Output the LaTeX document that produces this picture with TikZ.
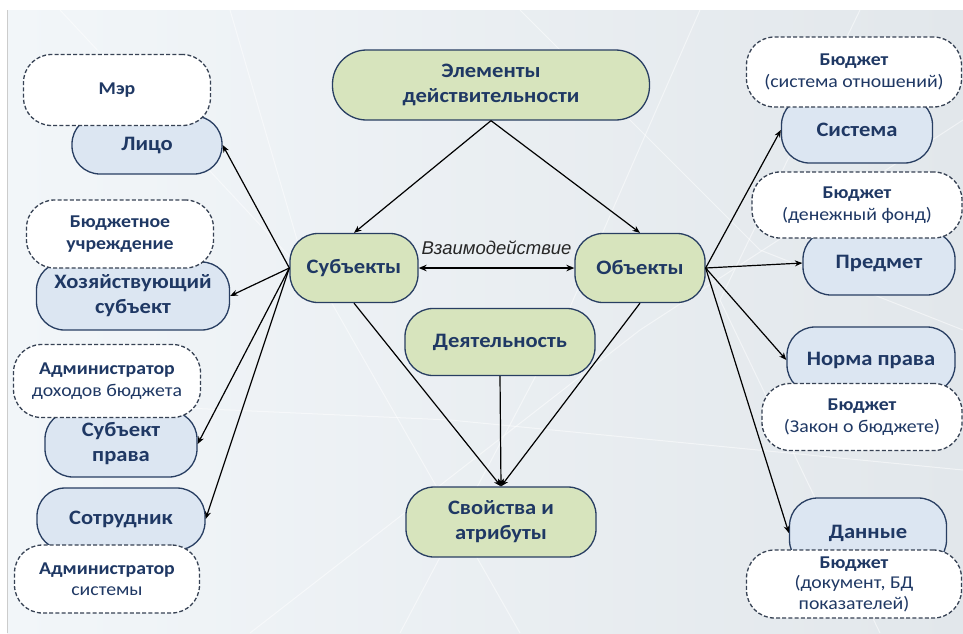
\documentclass[tikz,border=0pt]{standalone}
\usepackage{fontspec}
\setmainfont[FakeStretch=1.1]{Carlito}
\newfontfamily\interfont{Liberation Sans}
\usetikzlibrary{arrows.meta}

\definecolor{ink}{RGB}{31,56,100}
\definecolor{edge}{RGB}{40,62,98}
\definecolor{greenfill}{RGB}{215,228,189}
\definecolor{bluefill}{RGB}{220,230,242}
\definecolor{dashedge}{RGB}{55,66,84}
\definecolor{bgA}{RGB}{242,246,249}
\definecolor{bgB}{RGB}{226,231,235}

\tikzset{
  pill/.style={draw=edge, line width=1.3pt, rounded corners=28pt, align=center,
    text=ink, font=\fontsize{20.5}{25}\selectfont\bfseries, inner sep=0pt},
  greenpill/.style={pill, fill=greenfill},
  bluepill/.style={pill, fill=bluefill},
  notepill/.style={draw=dashedge, fill=white, line width=1.3pt,
    dash pattern=on 4pt off 2.2pt, rounded corners=28pt, align=center, text=ink,
    font=\fontsize{18}{21.5}\selectfont, inner sep=0pt},
  link/.style={line width=1.2pt, -{Stealth[length=7.5pt,width=6pt]}},
  netline/.style={white, line width=1pt, opacity=0.5},
}

\begin{document}
\begin{tikzpicture}[x=1pt, y=-1pt]
  \useasboundingbox (0,0) rectangle (963,633);
  \fill[white] (0,0) rectangle (963,633);
  % backdrop
  \shade[left color=bgA, right color=bgB] (7,10) rectangle (963,633);
  \draw[gray!40, line width=1pt] (7,10) -- (7,633);
  \draw[netline] (60,10) -- (330,300) -- (520,633);
  \draw[netline] (230,10) -- (300,250);
  \draw[netline] (700,10) -- (560,330) -- (400,633);
  \draw[netline] (860,10) -- (720,300) -- (880,633);
  \draw[netline] (963,120) -- (640,330) -- (250,633);
  \draw[netline] (10,400) -- (450,420) -- (963,470);
  \draw[netline] (520,10) -- (760,250) -- (963,330);

  % central nodes
  \node[greenpill, minimum width=317pt, minimum height=70pt, rounded corners=34pt] (elem) at (491,85) {Элементы\\действительности};
  \node[greenpill, minimum width=128pt, minimum height=69pt] (sub) at (354,268) {Субъекты};
  \node[greenpill, minimum width=130pt, minimum height=69pt] (obj) at (640,268) {Объекты};
  \node[greenpill, minimum width=190pt, minimum height=67pt] (deyat) at (500,342) {Деятельность};
  \node[greenpill, minimum width=190pt, minimum height=70pt] (svoy) at (501,522) {Свойства и\\атрибуты};

  % subject side
  \node[bluepill, minimum width=150pt, minimum height=58pt] (lico) at (147,145) {Лицо};
  \node[bluepill, minimum width=193pt, minimum height=68pt] (hoz) at (133,296) {Хозяйствующий\\субъект};
  \node[bluepill, minimum width=152pt, minimum height=66pt] (subpr) at (121,444) {Субъект\\права};
  \node[bluepill, minimum width=168pt, minimum height=62pt] (sotr) at (121,519) {Сотрудник};
  \node[notepill, minimum width=187pt, minimum height=71pt] (mer) at (117,90) {\bfseries Мэр};
  \node[notepill, minimum width=187pt, minimum height=68pt] (bu) at (120,234) {\bfseries Бюджетное\\\bfseries учреждение};
  \node[notepill, minimum width=187pt, minimum height=73pt] (adm) at (107,381) {\bfseries Администратор\\доходов бюджета};
  \node[notepill, minimum width=185pt, minimum height=68pt] (admsys) at (107,579) {\bfseries Администратор\\системы};

  % object side
  \node[bluepill, minimum width=151pt, minimum height=66pt] (sys) at (857,130) {Система};
  \node[bluepill, minimum width=152pt, minimum height=64pt] (pred) at (879,263) {Предмет};
  \node[bluepill, minimum width=168pt, minimum height=66pt] (norm) at (871,360) {Норма права};
  \node[bluepill, minimum width=157pt, minimum height=70pt] (dan) at (868,533) {Данные};
  \node[notepill, minimum width=215pt, minimum height=70pt] (bsys) at (854,72) {\bfseries Бюджет\\(система отношений)};
  \node[notepill, minimum width=210pt, minimum height=66pt] (bfund) at (857,205) {\bfseries Бюджет\\(денежный фонд)};
  \node[notepill, minimum width=200pt, minimum height=67pt] (blaw) at (862,417) {\bfseries Бюджет\\(Закон о бюджете)};
  \node[notepill, minimum width=215pt, minimum height=68pt, font=\fontsize{18}{20.5}\selectfont] (bdoc) at (854,584) {\bfseries Бюджет\\(документ, БД\\показателей)};

  % connectors
  \draw[link] (elem.south) -- (sub.north);
  \draw[link] (elem.south) -- (obj.north);
  \draw[link] (sub.south) -- (svoy.north);
  \draw[link] (obj.south) -- (svoy.north);
  \draw[link] (deyat.south) -- (svoy.north);
  \draw[line width=2pt, {Stealth[length=8pt,width=6.5pt]}-{Stealth[length=8pt,width=6.5pt]}] (sub.east) -- node[above=9pt, font=\interfont\itshape\fontsize{18.5}{20}\selectfont, text=black!85] {Взаимодействие} (obj.west);

  \draw[link] (sub.west) -- (lico.east);
  \draw[link] (sub.west) -- (hoz.east);
  \draw[link] (sub.west) -- (subpr.east);
  \draw[link] (sub.west) -- (sotr.east);

  \draw[link] (obj.east) -- (sys.west);
  \draw[link] (obj.east) -- (pred.west);
  \draw[link] (obj.east) -- (norm.west);
  \draw[link] (obj.east) -- (dan.west);
\end{tikzpicture}
\end{document}
